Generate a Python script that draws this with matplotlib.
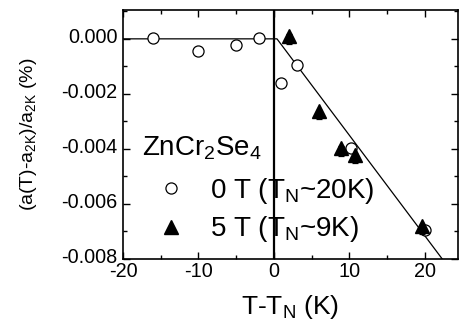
import matplotlib
matplotlib.use("Agg")
import matplotlib.pyplot as plt
from matplotlib.ticker import MultipleLocator
from matplotlib.lines import Line2D
from matplotlib.transforms import ScaledTranslation

plt.rcParams['font.family'] = ['Liberation Sans', 'DejaVu Sans']
plt.rcParams['mathtext.fontset'] = 'custom'
plt.rcParams['mathtext.rm'] = 'Liberation Sans'
plt.rcParams['mathtext.it'] = 'Liberation Sans'

# 0 T data (open circles)
x0 = [-16.0, -10.0, -5.0, -2.0, 1.0, 3.0, 10.2, 20.0]
y0 = [0.00004, -0.00045, -0.00022, 0.00004, -0.00160, -0.00095, -0.00395, -0.00695]
e0 = [0.00008, 0.00010, 0.00008, 0.00008, 0.00010, 0.00015, 0.00012, 0.00012]

# 5 T data (filled triangles)
x5 = [2.0, 6.0, 8.9, 10.7, 19.6]
y5 = [0.00012, -0.00262, -0.00396, -0.00422, -0.00680]
e5_lo = [0.00030, 0.00030, 0.00030, 0.00030, 0.00030]
e5_hi = [0.00005, 0.00005, 0.00005, 0.00005, 0.00005]

# guide line (horizontal then linear decrease)
line_x = [-20.0, 0.4, 22.3]
line_y = [0.0, 0.0, -0.008]

fig = plt.figure(figsize=(4.59, 3.32), dpi=100)
ax = fig.add_axes([0.268, 0.22, 0.730, 0.75])

ax.plot(line_x, line_y, color='black', lw=0.9, zorder=1)
ax.axvline(0, color='black', lw=1.6, zorder=1)

ax.errorbar(x0, y0, yerr=e0, fmt='o', mfc='white', mec='black', mew=0.9,
            ms=8, ecolor='black', elinewidth=0.9, capsize=2.5, capthick=0.9, zorder=3)
ax.errorbar(x5, y5, yerr=[e5_lo, e5_hi], fmt='^', mfc='black', mec='black',
            ms=10, ecolor='black', elinewidth=0.9, capsize=2.5, capthick=0.9, zorder=4)

ax.set_xlim(-20, 24.4)
ax.set_ylim(-0.008, 0.00105)
ax.set_xticks([-20, -10, 0, 10, 20])
ax.xaxis.set_minor_locator(MultipleLocator(5))
ax.set_yticks([0.0, -0.002, -0.004, -0.006, -0.008])
ax.set_yticklabels(['0.000', '-0.002', '-0.004', '-0.006', '-0.008'])
ax.yaxis.set_minor_locator(MultipleLocator(0.001))
ax.set_xticklabels(['-20', '-10', '0', '10', '20'])
ax.tick_params(which='both', direction='in', top=True, right=True, labelsize=14.3, width=1.0)
ax.tick_params(which='major', length=5)
ax.tick_params(axis='x', which='major', pad=2)
ax.tick_params(axis='y', which='major', pad=4)
ax.tick_params(which='minor', length=3)
for lab in ax.get_yticklabels():
    lab.set_transform(lab.get_transform() + ScaledTranslation(0, 3 / 100, fig.dpi_scale_trans))
for s in ax.spines.values():
    s.set_linewidth(1.2)

ax.set_xlabel(r'T-T$_{\rm N}$ (K)', fontsize=19, labelpad=9)
ax.set_ylabel(r'(a(T)-a$_{\rm 2K}$)/a$_{\rm 2K}$ (%)', fontsize=14, labelpad=16)

ax.text(142 / 459, 1 - 155 / 332, r'ZnCr$_2$Se$_4$', transform=fig.transFigure,
        fontsize=20, ha='left', va='baseline')

handles = [Line2D([], [], marker='o', ls='none', mfc='white', mec='black', ms=8, mew=0.9),
           Line2D([], [], marker='^', ls='none', mfc='black', mec='black', ms=10)]
leg = ax.legend(handles, [r'0 T (T$_{\rm N}$~20K)', r'5 T (T$_{\rm N}$~9K)'],
                loc='upper left', bbox_to_anchor=(157 / 459, 1 - 176 / 332),
                bbox_transform=fig.transFigure,
                frameon=False, fontsize=20, handlelength=1.0, handletextpad=0.9,
                labelspacing=0.3, borderaxespad=0.0, borderpad=0.0)

fig.savefig('out.png', dpi=100)
